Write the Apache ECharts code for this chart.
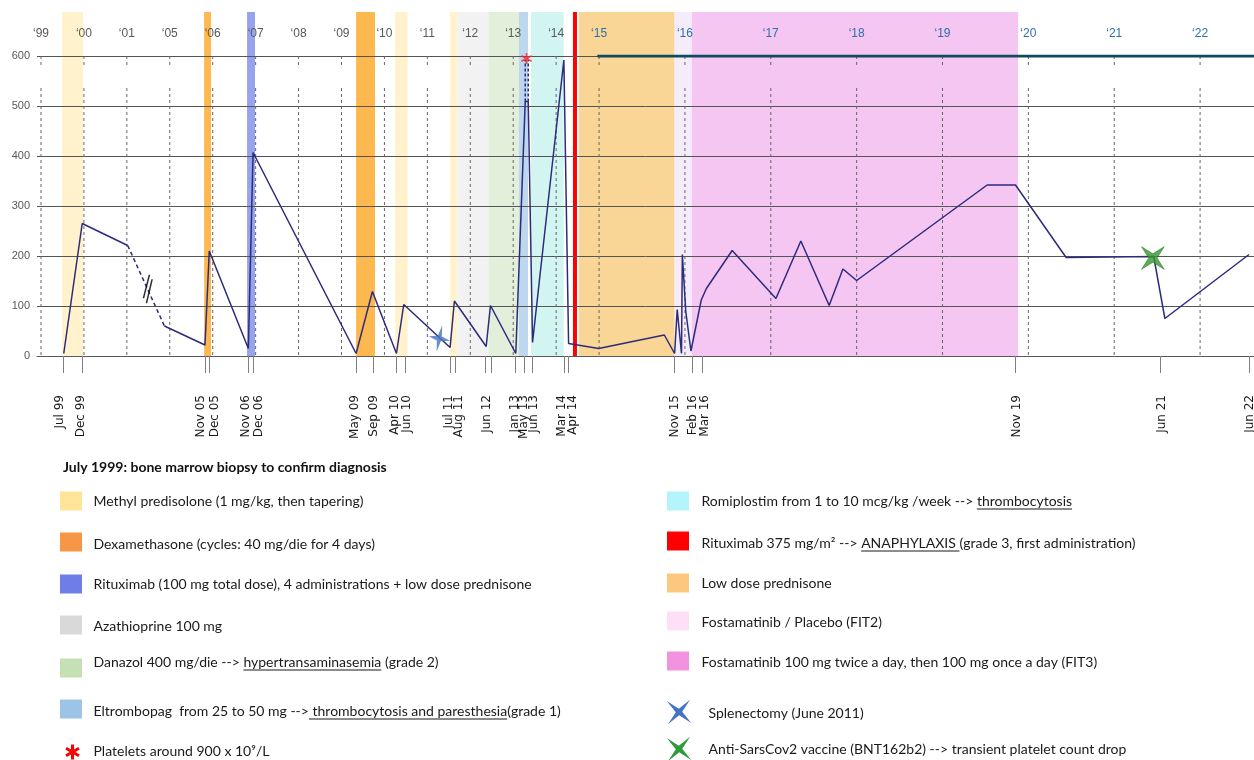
<!DOCTYPE html>
<html><head><meta charset="utf-8">
<script src="https://cdn.jsdelivr.net/npm/echarts@6/dist/echarts.min.js"></script>
<style>html,body{margin:0;padding:0;background:#fff}#c{width:1254px;height:760px}</style>
</head><body><div id="c"></div>
<script>
// ---------- DATA ----------
const yearTickYears  = [1999,2000,2001,2005,2006,2007,2008,2009,2010,2011,2012,2013,2014,2015,2016,2017,2018,2019,2020,2021,2022];
const yearTickLabels = ['‘99','‘00','‘01','‘05','‘06','‘07','‘08','‘09','‘10','‘11','‘12','‘13','‘14','‘15','‘16','‘17','‘18','‘19','‘20','‘21','‘22'];

// event ticks on the time axis
const eventYears  = [1999.53,1999.96,2005.82,2005.92,2006.83,2006.94,2009.34,2009.75,2010.28,2010.48,2011.53,2011.65,2012.36,2012.48,2013.05,2013.26,2013.44,2014.18,2014.29,2015.87,2016.08,2016.20,2019.85,2021.54,2022.57];
// event labels (spread slightly apart so close dates stay readable)
const eventLabelYears = [1999.45,1999.94,2005.72,2006.05,2006.77,2007.08,2009.31,2009.76,2010.24,2010.53,2011.49,2011.74,2012.39,2013.05,2013.25,2013.49,2014.14,2014.40,2015.884,2016.09,2016.23,2019.87,2021.56,2022.575];
const eventLabels     = ['Jul 99','Dec 99','Nov 05','Dec 05','Nov 06','Dec 06','May 09','Sep 09','Apr 10','Jun 10','Jul 11','Aug 11','Jun 12','Jan 13','May 13','Jun 13','Mar 14','Apr 14','Nov 15','Feb 16','Mar 16','Nov 19','Jun 21','Jun 22'];

const plateletYears  = [1999.53,1999.96,2001.08,2004.50,2005.82,2005.92,2006.83,2006.94,2009.34,2009.72,2010.28,2010.45,2011.53,2011.63,2012.37,2012.47,2013.06,2013.28,2013.35,2013.45,2014.18,2014.29,2014.99,2015.76,2015.88,2015.91,2015.96,2015.97,2016.01,2016.07,2016.19,2016.25,2016.55,2017.06,2017.35,2017.68,2017.84,2018.00,2019.52,2019.85,2020.44,2021.46,2021.59,2022.57];
const plateletValues = [5,265,221,60,22,210,15,407,5,129,5,103,17,110,19,101,5,509,509,27,592,25,15,42,5,93,5,203,89,10,112,135,211,115,230,101,174,151,342,342,197,199,75,203];

const bandStart     = [1999.49,2005.80,2006.80,2009.34,2010.25,2011.53,2011.70,2012.42,2013.134,2013.414,2014.392,2014.532,2015.88,2016.08];
const bandEnd       = [1999.98,2005.96,2006.985,2009.78,2010.54,2011.70,2012.42,2013.134,2013.344,2014.176,2014.485,2015.88,2016.08,2019.88];
const bandTreatment = ['methyl','dexa','ritux','dexa','methyl','methyl','aza','danazol','eltro','romi','ritux375','lowpred','fostaPlacebo','fosta'];

const asteriskPoint    = [2013.31, 595];
const splenectomyPoint = [2011.28, 35];
const vaccinePoint     = [2021.45, 196];
const breakPoint       = [2002.95, 134];
const highLineYears    = [2014.96, 2022.9];
const highLineValue    = 600;
const dashedRiseYears  = [2013.28, 2013.35];
const dashedRiseRange  = [509, 592];

const legendTitle = 'July 1999: bone marrow biopsy to confirm diagnosis';
const legendLeft = [
  {key:'methyl',  parts:[['Methyl predisolone (1 mg/kg, then tapering)',0]]},
  {key:'dexa',    parts:[['Dexamethasone (cycles: 40 mg/die for 4 days)',0]]},
  {key:'ritux',   parts:[['Rituximab (100 mg total dose), 4 administrations + low dose prednisone',0]]},
  {key:'aza',     parts:[['Azathioprine 100 mg',0]]},
  {key:'danazol', parts:[['Danazol 400 mg/die --> ',0],['hypertransaminasemia',1],[' (grade 2)',0]]},
  {key:'eltro',   parts:[['Eltrombopag  from 25 to 50 mg -->',0],[' thrombocytosis and paresthesia',1],['(grade 1)',0]]},
  {key:'asterisk',parts:[['Platelets around 900 x 10⁹/L',0]]}
];
const legendRight = [
  {key:'romi',        parts:[['Romiplostim from 1 to 10 mcg/kg /week --> ',0],['thrombocytosis',1]]},
  {key:'ritux375',    parts:[['Rituximab 375 mg/m² --> ',0],['ANAPHYLAXIS ',1],['(grade 3, first administration)',0]]},
  {key:'lowpred',     parts:[['Low dose prednisone',0]]},
  {key:'fostaPlacebo',parts:[['Fostamatinib / Placebo (FIT2)',0]]},
  {key:'fosta',       parts:[['Fostamatinib 100 mg twice a day, then 100 mg once a day (FIT3)',0]]},
  {key:'splenectomy', parts:[['Splenectomy (June 2011)',0]]},
  {key:'vaccine',     parts:[['Anti-SarsCov2 vaccine (BNT162b2) --> transient platelet count drop',0]]}
];

// ---------- STYLES ----------
const bandColors = {methyl:'#fff2cc',dexa:'#fdb94f',ritux:'#98a3ee',aza:'#f2f2f2',danazol:'#e2efda',eltro:'#bdd7ee',romi:'#d3f5f2',ritux375:'#ff0000',lowpred:'#f9d596',fostaPlacebo:'#f4ecfb',fosta:'#f4c6f1'};
const swatchColors = {methyl:'#ffe599',dexa:'#f79646',ritux:'#6e7de8',aza:'#d9d9d9',danazol:'#c5e0b4',eltro:'#9dc3e6',romi:'#b3f5fa',ritux375:'#ff0000',lowpred:'#fcc77e',fostaPlacebo:'#fddff7',fosta:'#f293e0'};
const NAVY = '#2d2b7c';
const leftLayout  = {swatchX:60, textX:93.5, swatchY:[501,542,584,625,668,709,752], textY:[501,544,584,626,662,711,751]};
const rightLayout = {swatchX:667, textX:701.5, swatchY:[501,541,583,621,661,712,749], textY:[501,543,583,622,662,713,749]};
const LFONT = '14px Lato';

// ---------- AXIS TRANSFORM (broken / rescaled time axis) ----------
function toAxis(y){
  if (y <= 2001) return y - 1999;
  if (y <= 2005) return 2 + (y - 2001) / 4;
  if (y <= 2015) return 3 + (y - 2005);
  return 13 + (y - 2015) * 2;
}
const X_MIN = -0.093, X_MAX = 28.256;

// ---------- SHAPES ----------
function barPolys(cx, cy, L, W){
  return [90,30,150].map(a => {
    const r = a*Math.PI/180, c = Math.cos(r), s = Math.sin(r);
    const px = -s*W, py = c*W;
    return [[cx+L*c+px,cy+L*s+py],[cx+L*c-px,cy+L*s-py],[cx-L*c-px,cy-L*s-py],[cx-L*c+px,cy-L*s+py]];
  });
}
function starPoints(cx, cy, R, r, rotDeg){
  const out = [];
  for (let k = 0; k < 8; k++) {
    const a = (rotDeg - 90 + k*45) * Math.PI/180, rad = (k % 2 === 0) ? R : r;
    out.push([cx + rad*Math.cos(a), cy + rad*Math.sin(a)]);
  }
  return out;
}
function polyToPath(p){ return 'M' + p.map(q => q[0].toFixed(2)+','+q[1].toFixed(2)).join('L') + 'Z'; }
const ASTERISK = barPolys(0,0,10,1.4).map(polyToPath).join('');
const STAR = polyToPath(starPoints(0,0,10,2.6,0));
const BREAK = 'M0,23.3L1.6,23.3L7.6,0L6,0ZM3,28.3L4.6,28.3L10.3,4.3L8.7,4.3Z';

// ---------- BUILD ----------
const pts = plateletYears.map((y,i) => [toAxis(y), plateletValues[i]]);
const lineBase = {type:'line', xAxisIndex:0, yAxisIndex:1, showSymbol:false, symbol:'none', z:5, silent:true,
  lineStyle:{color:NAVY, width:1.5}};

const mctx = document.createElement('canvas').getContext('2d');
function textW(s, font){ mctx.font = font; return mctx.measureText(s).width; }

const graphics = [];
graphics.push({type:'text', x:63, y:467, style:{text:legendTitle, font:'bold 14px Lato', fill:'#111', verticalAlign:'middle'}});
function addLegend(list, lay){
  list.forEach((it, i) => {
    const sy = lay.swatchY[i], ty = lay.textY[i];
    if (swatchColors[it.key]) {
      graphics.push({type:'rect', shape:{x:lay.swatchX, y:sy-9.5, width:22, height:19}, style:{fill:swatchColors[it.key]}});
    } else if (it.key === 'asterisk') {
      barPolys(lay.swatchX+12.5, sy, 7.5, 1.5).forEach(p =>
        graphics.push({type:'polygon', shape:{points:p}, style:{fill:'#ff0000'}}));
    } else {
      const col = it.key === 'splenectomy' ? '#4472c4' : '#2e9a3a';
      graphics.push({type:'polygon', shape:{points:starPoints(lay.swatchX+12, sy, 16.5, 3.2, 42)}, style:{fill:col}});
    }
    const tx = (it.key === 'splenectomy' || it.key === 'vaccine') ? lay.textX + 7 : lay.textX;
    const full = it.parts.map(p => p[0]).join('');
    graphics.push({type:'text', x:tx, y:ty, style:{text:full, font:LFONT, fill:'#1a1a1a', verticalAlign:'middle'}});
    let off = 0;
    it.parts.forEach(p => {
      const w = textW(p[0], LFONT);
      if (p[1]) graphics.push({type:'line', shape:{x1:tx+off, y1:ty+8, x2:tx+off+w, y2:ty+8}, style:{stroke:'#1a1a1a', lineWidth:1}});
      off += w;
    });
  });
}
addLegend(legendLeft, leftLayout);
addLegend(legendRight, rightLayout);

function labelFor(v, years){
  for (let i = 0; i < years.length; i++) if (Math.abs(toAxis(years[i]) - v) < 1e-6) return i;
  return -1;
}

const chart = echarts.init(document.getElementById('c'), null, {renderer:'canvas'});
chart.setOption({
  animation:false,
  grid:[
    {left:37, right:0, top:12, bottom:404, containLabel:false, outerBoundsMode:'none'},
    {left:37, right:0, top:56, bottom:404, containLabel:false, outerBoundsMode:'none'}
  ],
  xAxis:[
    {type:'value', gridIndex:1, position:'bottom', min:X_MIN, max:X_MAX, z:3,
      axisLine:{show:true, lineStyle:{color:'#595959', width:1}},
      axisTick:{show:true, customValues:eventYears.map(toAxis), length:17, lineStyle:{color:'#808080', width:1}},
      axisLabel:{show:true, customValues:eventLabelYears.map(toAxis), rotate:90, margin:39, fontFamily:'DejaVu Sans', fontSize:12, color:'#1a1a1a',
        hideOverlap:false,
        formatter:v => { const i = labelFor(v, eventLabelYears); return i >= 0 ? eventLabels[i] : ''; }},
      splitLine:{show:false}},
    {type:'value', gridIndex:1, position:'top', min:X_MIN, max:X_MAX, z:3,
      axisLine:{show:false}, axisTick:{show:false}, splitLine:{show:false},
      axisLabel:{show:true, customValues:yearTickYears.map(toAxis), margin:16, fontFamily:'Liberation Sans', fontSize:12,
        formatter:v => { const i = labelFor(v, yearTickYears); if (i < 0) return ''; return (yearTickYears[i] >= 2015 ? '{b|' : '{g|') + yearTickLabels[i] + '}'; },
        rich:{g:{color:'#595959', fontFamily:'Liberation Sans', fontSize:12}, b:{color:'#2e6fae', fontFamily:'Liberation Sans', fontSize:12}}}},
    {type:'value', gridIndex:0, min:X_MIN, max:X_MAX, show:false}
  ],
  yAxis:[
    {type:'value', gridIndex:0, min:0, max:1, show:false},
    {type:'value', gridIndex:1, min:0, max:600, interval:100, z:3,
      axisLine:{show:false}, axisTick:{show:false},
      axisLabel:{margin:7, color:'#595959', fontFamily:'Liberation Sans', fontSize:11},
      splitLine:{show:true, lineStyle:{color:'#555555', width:1}}}
  ],
  graphic:{elements:graphics},
  series:[
    {type:'custom', xAxisIndex:2, yAxisIndex:0, z:1, silent:true, clip:false,
      data:bandStart.map((s,i) => [toAxis(s), toAxis(bandEnd[i]), i]),
      encode:{x:[0,1]},
      renderItem:(params, api) => {
        const p0 = api.coord([api.value(0), 1]), p1 = api.coord([api.value(1), 0]);
        return {type:'rect', shape:{x:p0[0], y:p0[1], width:p1[0]-p0[0], height:p1[1]-p0[1]},
          style:{fill:bandColors[bandTreatment[api.value(2)]]}};
      }},
    {type:'custom', xAxisIndex:0, yAxisIndex:1, z:4, silent:true,
      data:yearTickYears.map(y => [toAxis(y)]),
      encode:{x:0},
      renderItem:(params, api) => {
        const x = api.value(0);
        const a = api.coord([x, 600]), b = api.coord([x, 580]), c = api.coord([x, 536]), d = api.coord([x, 0]);
        const st = {stroke:'#666666', lineWidth:1, lineDash:[3,3]};
        return {type:'group', children:[
          {type:'line', shape:{x1:a[0], y1:a[1], x2:b[0], y2:b[1]}, style:st},
          {type:'line', shape:{x1:c[0], y1:c[1], x2:d[0], y2:d[1]}, style:st}
        ]};
      }},
    Object.assign({}, lineBase, {data:pts.slice(0,3)}),
    Object.assign({}, lineBase, {data:pts.slice(2,4), lineStyle:{color:NAVY, width:1.5, type:[4,3]}}),
    Object.assign({}, lineBase, {data:pts.slice(3)}),
    ...dashedRiseYears.map(y => Object.assign({}, lineBase, {
      data:[[toAxis(y), dashedRiseRange[0]], [toAxis(y), dashedRiseRange[1]]],
      lineStyle:{color:NAVY, width:1.5, type:[3,2]}})),
    Object.assign({}, lineBase, {z:6, data:highLineYears.map(y => [toAxis(y), highLineValue]),
      lineStyle:{color:'#0e4b61', width:3}}),
    {type:'scatter', xAxisIndex:0, yAxisIndex:1, z:7, silent:true, data:[[toAxis(asteriskPoint[0]), asteriskPoint[1]]],
      symbol:'path://'+ASTERISK, symbolSize:11, itemStyle:{color:'#ff2020'}},
    {type:'scatter', xAxisIndex:0, yAxisIndex:1, z:7, silent:true, data:[[toAxis(splenectomyPoint[0]), splenectomyPoint[1]]],
      symbol:'path://'+STAR, symbolSize:[22,27], symbolRotate:-12, itemStyle:{color:'#4472c4'}},
    {type:'scatter', xAxisIndex:0, yAxisIndex:1, z:7, silent:true, data:[[toAxis(vaccinePoint[0]), vaccinePoint[1]]],
      symbol:'path://'+STAR, symbolSize:32, symbolRotate:45, itemStyle:{color:'#35962f', borderColor:'#1f6a1f', borderWidth:0.6}},
    {type:'scatter', xAxisIndex:0, yAxisIndex:1, z:7, silent:true, data:[[toAxis(breakPoint[0]), breakPoint[1]]],
      symbol:'path://'+BREAK, symbolSize:[10.3,28.3], itemStyle:{color:'#000000'}}
  ]
});
</script>
</body></html>
